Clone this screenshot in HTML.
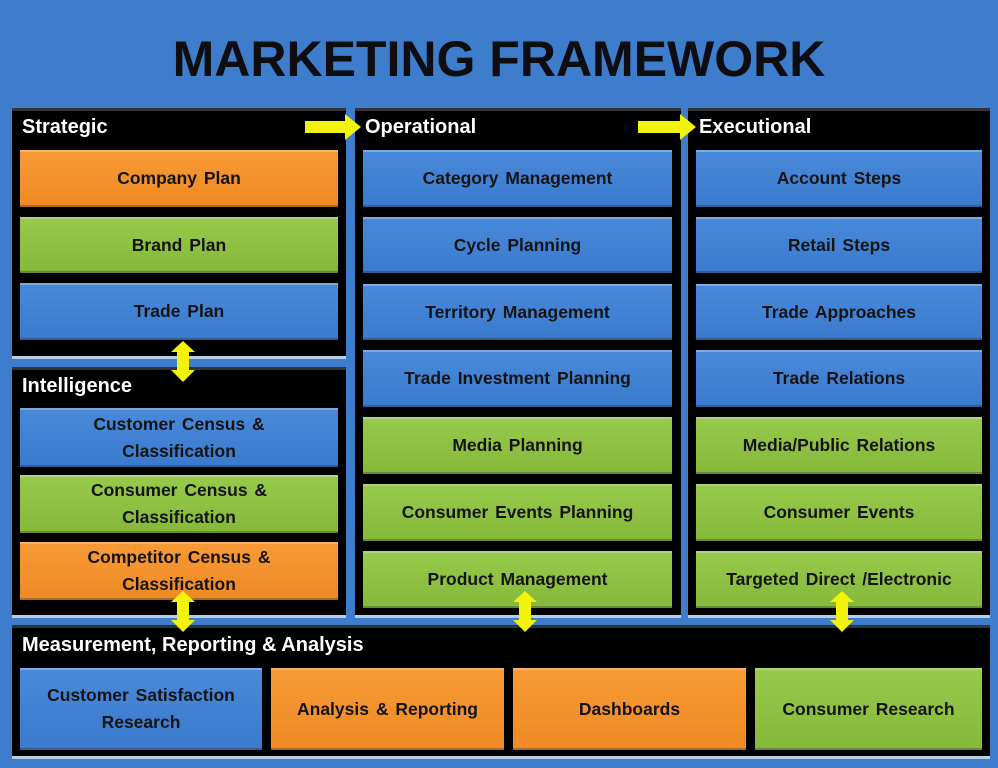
<!DOCTYPE html>
<html><head><style>
*{margin:0;padding:0;box-sizing:border-box}
body{width:998px;height:768px;background:#3d7dcb;position:relative;overflow:hidden;font-family:"Liberation Sans",sans-serif}
.t{position:absolute;left:0;width:998px;top:30px;text-align:center;font-size:50px;font-weight:bold;color:#0d0d12;letter-spacing:0px}
.p{position:absolute;background:#000;border-top:3px solid #333;border-bottom:3px solid #b8cce8}
.h{position:absolute;color:#fff;font-weight:bold;font-size:20px}
.b{position:absolute;display:flex;align-items:center;justify-content:center;text-align:center;font-weight:bold;font-size:17.5px;color:#141414;line-height:27px;word-spacing:2px;border-top:2px solid rgba(255,255,255,.35);border-bottom:2px solid rgba(0,0,0,.3)}
.o{background:linear-gradient(#f79a35,#ef8a24)}
.g{background:linear-gradient(#97c94a,#86b93a)}
.u{background:linear-gradient(#4889da,#3b7bcd)}
svg{position:absolute;left:0;top:0}
</style></head><body>
<div class="t">MARKETING FRAMEWORK</div>
<div class="p" style="left:12px;top:108px;width:334px;height:251px"></div>
<div class="p" style="left:12px;top:367px;width:334px;height:251px"></div>
<div class="p" style="left:355px;top:108px;width:326px;height:510px"></div>
<div class="p" style="left:688px;top:108px;width:302px;height:510px"></div>
<div class="p" style="left:12px;top:625px;width:978px;height:134px"></div>
<div class="h" style="left:22px;top:116px">Strategic</div>
<div class="h" style="left:22px;top:375px">Intelligence</div>
<div class="h" style="left:365px;top:116px">Operational</div>
<div class="h" style="left:699px;top:116px">Executional</div>
<div class="h" style="left:22px;top:634px">Measurement, Reporting &amp; Analysis</div>

<div class="b o" style="left:20px;top:150px;width:318px;height:57px">Company Plan</div>
<div class="b g" style="left:20px;top:217px;width:318px;height:56px">Brand Plan</div>
<div class="b u" style="left:20px;top:283px;width:318px;height:57px">Trade Plan</div>
<div class="b u" style="left:20px;top:408px;width:318px;height:59px">Customer Census &amp;<br>Classification</div>
<div class="b g" style="left:20px;top:475px;width:318px;height:58px">Consumer Census &amp;<br>Classification</div>
<div class="b o" style="left:20px;top:542px;width:318px;height:58px">Competitor Census &amp;<br>Classification</div>

<div class="b u" style="left:363px;top:150px;width:309px;height:57px">Category Management</div>
<div class="b u" style="left:363px;top:217px;width:309px;height:56px">Cycle Planning</div>
<div class="b u" style="left:363px;top:284px;width:309px;height:56px">Territory Management</div>
<div class="b u" style="left:363px;top:350px;width:309px;height:57px">Trade Investment Planning</div>
<div class="b g" style="left:363px;top:417px;width:309px;height:57px">Media Planning</div>
<div class="b g" style="left:363px;top:484px;width:309px;height:57px">Consumer Events Planning</div>
<div class="b g" style="left:363px;top:551px;width:309px;height:57px">Product Management</div>

<div class="b u" style="left:696px;top:150px;width:286px;height:57px">Account Steps</div>
<div class="b u" style="left:696px;top:217px;width:286px;height:56px">Retail Steps</div>
<div class="b u" style="left:696px;top:284px;width:286px;height:56px">Trade Approaches</div>
<div class="b u" style="left:696px;top:350px;width:286px;height:57px">Trade Relations</div>
<div class="b g" style="left:696px;top:417px;width:286px;height:57px">Media/Public Relations</div>
<div class="b g" style="left:696px;top:484px;width:286px;height:57px">Consumer Events</div>
<div class="b g" style="left:696px;top:551px;width:286px;height:57px">Targeted Direct /Electronic</div>

<div class="b u" style="left:20px;top:668px;width:242px;height:82px">Customer Satisfaction<br>Research</div>
<div class="b o" style="left:271px;top:668px;width:233px;height:82px">Analysis &amp; Reporting</div>
<div class="b o" style="left:513px;top:668px;width:233px;height:82px">Dashboards</div>
<div class="b g" style="left:755px;top:668px;width:227px;height:82px">Consumer Research</div>

<svg width="998" height="768">
<g fill="#f2f20a">
<polygon points="305,121 345,121 345,114 361,127 345,140 345,133 305,133"/>
<polygon points="638,121 680,121 680,114 696,127 680,140 680,133 638,133"/>
<polygon points="183,341 195,352 189,352 189,370 195,370 183,382 171,370 177,370 177,352 171,352"/>
<polygon points="183,591 195,602 189,602 189,620 195,620 183,632 171,620 177,620 177,602 171,602"/>
<polygon points="525,591 537,602 531,602 531,620 537,620 525,632 513,620 519,620 519,602 513,602"/>
<polygon points="842,591 854,602 848,602 848,620 854,620 842,632 830,620 836,620 836,602 830,602"/>
</g>
</svg>
</body></html>
